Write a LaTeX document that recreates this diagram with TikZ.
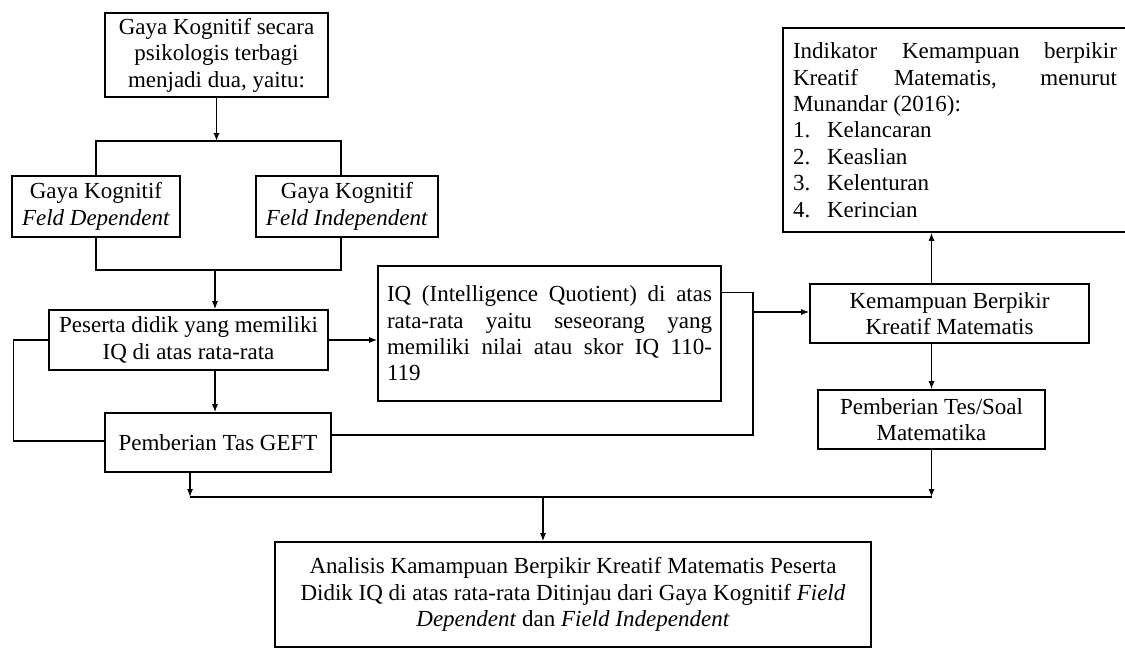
\documentclass[tikz,border=0pt]{standalone}
\usepackage{fontspec}
\setmainfont{Liberation Serif}
\usetikzlibrary{arrows.meta}
\begin{document}
\begin{tikzpicture}[x=0.5pt,y=-0.5pt,
    box/.style={draw,black,line width=0.8pt,inner sep=0pt,align=center,font=\fontsize{11.5}{13.2}\selectfont},
    textbox/.style={box,align=justify,inner xsep=#1},
    link/.style={black,line width=0.6pt},
    arr/.style={link,-{Latex[length=4pt,width=3pt]}}]
    \useasboundingbox (0,0) rectangle (1125,648);
    \node [box,minimum width=111.5pt,minimum height=42pt] (gaya) at (216.5,55) {Gaya Kognitif secara\\psikologis terbagi\\menjadi dua, yaitu:};
    \node [box,minimum width=84pt,minimum height=30.5pt] (fd) at (96,206.5) {Gaya Kognitif\\\textit{Feld Dependent}};
    \node [box,minimum width=91pt,minimum height=30.5pt] (fi) at (347,206.5) {Gaya Kognitif\\\textit{Feld Independent}};
    \node [box,minimum width=139.5pt,minimum height=30pt] (peserta) at (188.5,340) {Peserta didik yang memiliki\\IQ di atas rata-rata};
    \node [box,minimum width=113pt,minimum height=29.5pt] (geft) at (218,442.5) {Pemberian Tas GEFT};
    \node [textbox=4.5pt,text width=162.5pt,minimum height=67.5pt] (iq) at (549.5,333.5) {IQ (Intelligence Quotient) di atas\linebreak rata-rata yaitu seseorang yang\linebreak memiliki nilai atau skor IQ 110-\linebreak 119};
    \node [textbox=5pt,text width=162pt,minimum height=102pt] (indikator) at (955,130) {Indikator Kemampuan berpikir\linebreak Kreatif Matematis, menurut\linebreak Munandar (2016):\\
        \makebox[17pt][l]{1.}Kelancaran\\
        \makebox[17pt][l]{2.}Keaslian\\
        \makebox[17pt][l]{3.}Kelenturan\\
        \makebox[17pt][l]{4.}Kerincian};
    \node [box,minimum width=139.5pt,minimum height=29.5pt] (kemampuan) at (949.5,313.5) {Kemampuan Berpikir\\Kreatif Matematis};
    \node [box,minimum width=113.5pt,minimum height=29.5pt] (tes) at (931.5,419.5) {Pemberian Tes/Soal\\Matematika};
    \node [box,minimum width=298pt,minimum height=52.5pt] (analisis) at (573,594.5) {Analisis Kamampuan Berpikir Kreatif Matematis Peserta\\Didik IQ di atas rata-rata Ditinjau dari Gaya Kognitif \textit{Field}\\\textit{Dependent} dan \textit{Field Independent}};
    \coordinate (split) at (216.5,141);
    \coordinate (join) at (215,270);
    \coordinate (bus) at (753,312);
    \coordinate (bottom) at (543,497);
    \coordinate (fiin) at ([xshift=-3pt]fi.north);
    \coordinate (fiout) at ([xshift=-3pt]fi.south);
    \coordinate (gout) at ([xshift=-14pt]geft.south);
    \draw [arr] (gaya.south) -- (split);
    \draw [link] (fd.north) |- (split) -| (fiin);
    \draw [link] (fd.south) |- (join) -| (fiout);
    \draw [arr] (join) -- (join |- peserta.north);
    \draw [arr] (join |- peserta.south) -- (join |- geft.north);
    \draw [link] (peserta.west) -- ++(-35,0) |- ([yshift=0.75pt]geft.west);
    \draw [arr] (peserta.east) -- (peserta.east -| iq.west);
    \draw [link] ([yshift=-13.5pt]iq.north east) -| (bus) |- ([yshift=3.75pt]geft.east);
    \draw [arr] (bus) -- (bus -| kemampuan.west);
    \draw [arr] (tes.north |- kemampuan.north) -- (tes.north |- indikator.south);
    \draw [arr] (tes.north |- kemampuan.south) -- (tes.north);
    \draw [arr] (gout) -- (gout |- bottom);
    \draw [arr] (tes.south) -- (tes.south |- bottom);
    \draw [link] (gout |- bottom) -- (tes.south |- bottom);
    \draw [arr] (bottom) -- (bottom |- analisis.north);
\end{tikzpicture}
\end{document}
